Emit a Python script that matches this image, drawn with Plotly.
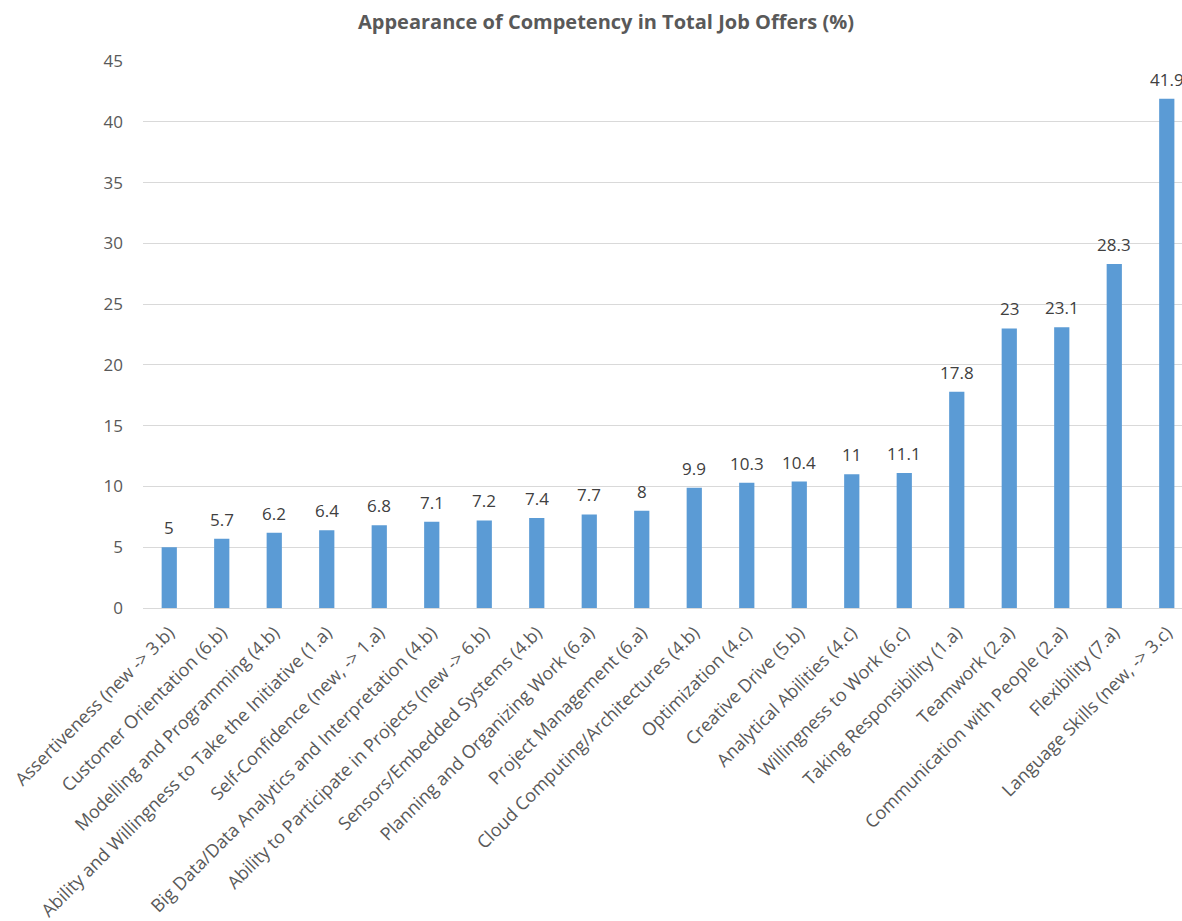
import plotly.graph_objects as go

categories = [
    "Assertiveness (new -> 3.b)",
    "Customer Orientation (6.b)",
    "Modelling and Programming (4.b)",
    "Ability and Willingness to Take the Initiative (1.a)",
    "Self-Confidence (new, -> 1.a)",
    "Big Data/Data Analytics and Interpretation (4.b)",
    "Ability to Participate in Projects (new -> 6.b)",
    "Sensors/Embedded Systems (4.b)",
    "Planning and Organizing Work (6.a)",
    "Project Management (6.a)",
    "Cloud Computing/Architectures (4.b)",
    "Optimization (4.c)",
    "Creative Drive (5.b)",
    "Analytical Abilities (4.c)",
    "Willingness to Work (6.c)",
    "Taking Responsibility (1.a)",
    "Teamwork (2.a)",
    "Communication with People (2.a)",
    "Flexibility (7.a)",
    "Language Skills (new, -> 3.c)",
]
values = [5, 5.7, 6.2, 6.4, 6.8, 7.1, 7.2, 7.4, 7.7, 8, 9.9, 10.3, 10.4, 11, 11.1, 17.8, 23, 23.1, 28.3, 41.9]
labels = [f"{v:g}" for v in values]
y_ticks = [0, 5, 10, 15, 20, 25, 30, 35, 40, 45]

FONT = "Open Sans"
TXT = "#595959"
xs = list(range(len(categories)))

fig = go.Figure(go.Bar(
    x=xs,
    y=values,
    marker=dict(color="#5B9BD5", line=dict(width=0)),
))

for xi, v, lab in zip(xs, values, labels):
    fig.add_annotation(x=xi, y=v, text=lab, showarrow=False,
                       yanchor="bottom", yshift=6,
                       font=dict(family=FONT, size=17, color="#404040"))

fig.update_layout(
    width=1182, height=921,
    margin=dict(l=143, r=0, t=61, b=313),
    paper_bgcolor="white", plot_bgcolor="white",
    bargap=0.71,
    showlegend=False,
    title=dict(text="<b>Appearance of Competency in Total Job Offers (%)</b>",
               x=606/1182, xref="container", xanchor="center",
               y=1 - 22/921, yref="container", yanchor="middle",
               font=dict(family=FONT, size=20, color=TXT)),
    font=dict(family=FONT, color=TXT),
)
fig.update_xaxes(
    tickmode="array", tickvals=xs, ticktext=categories,
    tickangle=-45, tickfont=dict(family=FONT, size=18, color=TXT),
    range=[-0.5, 19.29], showgrid=False, zeroline=False,
    showline=True, linecolor="#D9D9D9", linewidth=1, ticks="",
    ticklabelstandoff=6,
)
fig.update_yaxes(
    range=[0, 45], tickvals=y_ticks, tickfont=dict(family=FONT, size=17, color=TXT),
    showgrid=True, gridcolor="#D9D9D9", gridwidth=1, zeroline=False,
    showline=False, ticks="", ticklabelstandoff=19,
)

fig.write_html("out.html")
